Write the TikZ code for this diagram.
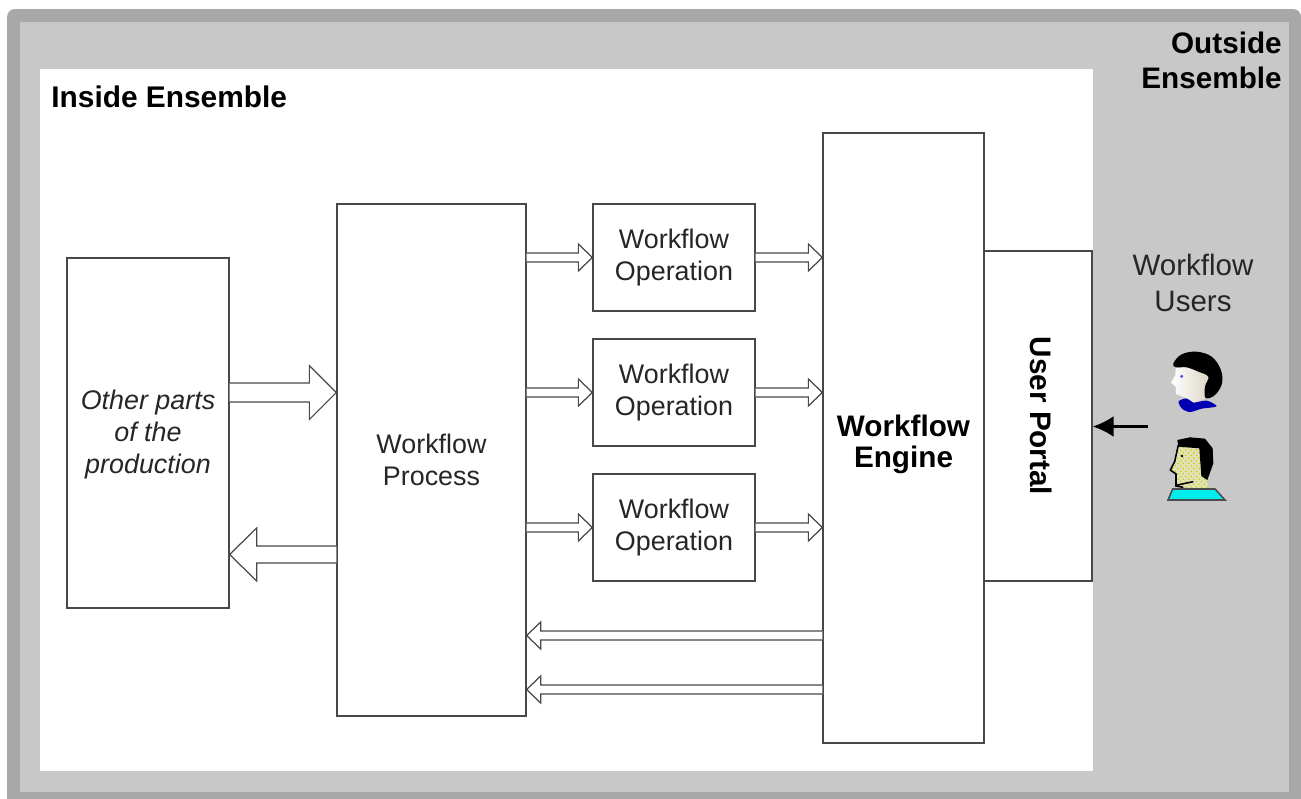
\documentclass[tikz,border=0pt]{standalone}
\usepackage{fontspec}
\setmainfont{Liberation Sans}
\usetikzlibrary{calc,arrows.meta,patterns}
\definecolor{framegray}{HTML}{A8A8A8}
\definecolor{zonegray}{HTML}{C8C8C8}
\definecolor{linegray}{HTML}{484848}
\definecolor{shirtcyan}{HTML}{00EEEE}
\definecolor{skintan}{HTML}{DDD5C5}
\definecolor{skinpale}{HTML}{E2E2B8}
\tikzset{
	block/.style={draw=linegray,line width=.75pt,fill=white,inner sep=0pt,align=center,text=black!85,font=\fontsize{15.3}{18.2}\selectfont},
	blockline/.style={draw=linegray,line width=.7pt,fill=white,line join=miter},
	heading/.style={inner sep=0pt,align=center,font=\fontsize{16.9}{20}\bfseries\selectfont},
}
\newcommand{\blockarrow}[5]{
	\coordinate (from) at (#1);
	\coordinate (tip) at (#2);
	\coordinate (base) at ($(tip)!#5!(from)$);
	\draw[blockline] ($(from)!#3!90:(tip)$) -- ($(base)!#3!90:(tip)$) -- ($(base)!#4!90:(tip)$) -- (tip)
		-- ($(base)!#4!-90:(tip)$) -- ($(base)!#3!-90:(tip)$) -- ($(from)!#3!-90:(tip)$);
}
\begin{document}
\begin{tikzpicture}[x=.02cm,y=-.02cm]
	\useasboundingbox (0,0) rectangle (1301,798);

	\fill[framegray,rounded corners=.16cm] (7,9) rectangle (1301,810);
	\fill[zonegray] (19.5,21.5) rectangle (1289,792);
	\fill[white] (40,69) rectangle (1093,771);

	\draw (51,97) node[heading,anchor=west,font=\fontsize{17}{20}\bfseries\selectfont] (inside) {Inside Ensemble};
	\draw (1282,60) node[heading,anchor=east,align=right,font=\fontsize{16.9}{19.9}\bfseries\selectfont] (outside) {Outside\\Ensemble};

	\draw (148,433) node[block,minimum width=3.24cm,minimum height=7cm] (other) {};
	\draw (148,435) node[align=center,inner sep=0pt,text=black!85,font=\fontsize{15.3}{18.2}\itshape\selectfont] (othertext) {Other parts\\of the\\production};
	\draw (431.5,460) node[block,minimum width=3.78cm,minimum height=10.24cm] (process) {Workflow\\Process};
	\draw (674,257.5) node[block,minimum width=3.24cm,minimum height=2.14cm] (opa) {Workflow\\Operation};
	\draw (674,392.5) node[block,minimum width=3.24cm,minimum height=2.14cm] (opb) {Workflow\\Operation};
	\draw (674,527.5) node[block,minimum width=3.24cm,minimum height=2.14cm] (opc) {Workflow\\Operation};
	\draw (903.5,438) node[block,minimum width=3.22cm,minimum height=12.2cm] (engine) {};
	\draw (903.5,444) node[heading,font=\fontsize{16.9}{17.6}\bfseries\selectfont] (enginetext) {Workflow\\Engine};
	\draw (1038,416) node[block,minimum width=2.16cm,minimum height=6.6cm] (portal) {};
	\draw (1041,416) node[heading,rotate=-90] (portaltext) {User Portal};

	\blockarrow{other.east |- 0,392.5}{process.west |- 0,392.5}{.19cm}{.54cm}{.54cm}
	\blockarrow{process.west |- 0,554.5}{other.east |- 0,554.5}{.17cm}{.53cm}{.54cm}

	\blockarrow{process.east |- opa.west}{opa.west}{.09cm}{.27cm}{.28cm}
	\blockarrow{process.east |- opb.west}{opb.west}{.09cm}{.27cm}{.28cm}
	\blockarrow{process.east |- opc.west}{opc.west}{.09cm}{.27cm}{.28cm}
	\blockarrow{opa.east}{engine.west |- opa.east}{.09cm}{.27cm}{.28cm}
	\blockarrow{opb.east}{engine.west |- opb.east}{.09cm}{.27cm}{.28cm}
	\blockarrow{opc.east}{engine.west |- opc.east}{.09cm}{.27cm}{.28cm}

	\blockarrow{engine.west |- 0,635.5}{process.east |- 0,635.5}{.09cm}{.27cm}{.28cm}
	\blockarrow{engine.west |- 0,689.5}{process.east |- 0,689.5}{.09cm}{.27cm}{.28cm}

	\draw (1193,283) node[align=center,inner sep=0pt,text=black!85,font=\fontsize{16.8}{20.4}\selectfont] (users) {Workflow\\Users};

	\coordinate (usersout) at (1148,426.5);
	\draw[-{Latex[length=.42cm,width=.42cm]},line width=1.6pt] (usersout) -- (portal.east |- usersout);

	\begin{scope}[shift={(1090,330)},x=.00667cm,y=-.00667cm]
		\fill[blue!70!black] plot[smooth cycle,tension=.5] coordinates {(266,214) (292,205) (310,218) (350,212) (380,229) (335,236) (300,246) (276,236)};
		\shade[left color=white,right color=skintan] (258,105) -- (256,135) -- (243,158) -- (257,170) -- (258,192) -- (292,206) -- (312,217) -- (345,207) -- (360,130) -- (310,105) -- cycle;
		\fill plot[smooth cycle,tension=.6] coordinates {(250,100) (275,73) (320,65) (365,80) (392,118) (396,160) (375,195) (347,204) (345,170) (355,140) (325,125) (290,112) (258,112)};
		\fill[blue!70] (275,139) circle (5);

		\fill[skinpale] (265,345) -- (254,395) -- (241,420) -- (258,432) -- (258,468) -- (290,472) -- (355,476) -- (350,440) -- (325,350) -- cycle;
		\fill[pattern=crosshatch dots,pattern color=yellow!80!black] (265,345) -- (254,395) -- (241,420) -- (258,432) -- (258,468) -- (290,472) -- (355,476) -- (350,440) -- (325,350) -- cycle;
		\draw[line width=.9pt] (265,345) -- (254,395) -- (241,420) -- (258,432) -- (258,468) -- (280,472) (262,465) -- (310,455);
		\fill (262,330) -- (300,322) -- (345,326) -- (368,355) -- (370,400) -- (352,450) -- (334,438) -- (328,355) -- (265,350) -- cycle;
		\fill (276,378) circle (4);
		\draw[fill=shirtcyan,draw=black!70,line width=.9pt] (234,510) -- (248,477) -- (375,477) -- (405,510) -- cycle;
	\end{scope}
\end{tikzpicture}
\end{document}
